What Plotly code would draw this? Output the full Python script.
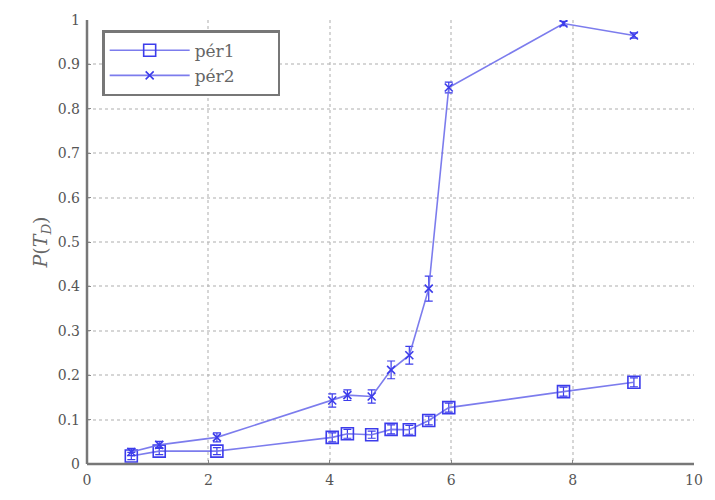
import plotly.graph_objects as go

# Measurement points shared by both series
x_vals = [0.73, 1.19, 2.14, 4.04, 4.29, 4.69, 5.01, 5.31, 5.63, 5.96, 7.85, 9.01]

per1 = [0.018, 0.029, 0.029, 0.060, 0.068, 0.066, 0.078, 0.077, 0.098, 0.127, 0.163, 0.184]
per1_err = [0.008, 0.008, 0.008, 0.010, 0.010, 0.008, 0.010, 0.010, 0.010, 0.010, 0.010, 0.010]

per2 = [0.027, 0.043, 0.060, 0.143, 0.155, 0.152, 0.212, 0.245, 0.395, 0.848, 0.992, 0.965]
per2_err = [0.008, 0.008, 0.010, 0.015, 0.012, 0.015, 0.020, 0.020, 0.028, 0.012, 0.005, 0.006]

series_names = ["pér1", "pér2"]

x_ticks = [0, 2, 4, 6, 8, 10]
y_ticks = [0, 0.1, 0.2, 0.3, 0.4, 0.5, 0.6, 0.7, 0.8, 0.9, 1]

line_col = "rgba(110,110,235,0.9)"
mark_col = "rgb(60,60,235)"
font_serif = "DejaVu Serif"
pad = "\u00a0" * 7  # widens the legend box

fig = go.Figure()

fig.add_trace(go.Scatter(
    x=x_vals, y=per1, name=series_names[0] + pad, mode="lines+markers",
    line=dict(color=line_col, width=1.6),
    marker=dict(symbol="square-open", size=12, color=mark_col,
                line=dict(width=1.6, color=mark_col)),
    error_y=dict(type="data", array=per1_err, color=mark_col, thickness=1.2, width=4),
))

fig.add_trace(go.Scatter(
    x=x_vals, y=per2, name=series_names[1] + pad, mode="lines+markers",
    line=dict(color=line_col, width=1.6),
    marker=dict(symbol="x-thin-open", size=8, color=mark_col,
                line=dict(width=1.6, color=mark_col)),
    error_y=dict(type="data", array=per2_err, color=mark_col, thickness=1.2, width=4),
))

axis_common = dict(
    showline=False, zeroline=False,
    showgrid=True, gridcolor="rgba(180,180,180,0.55)", griddash="dot", gridwidth=1.5,
    ticks="inside", ticklen=4, tickcolor="#888",
    tickfont=dict(family=font_serif, size=14, color="#555"),
)

fig.update_xaxes(range=[0, 10], tickvals=x_ticks, ticklabelstandoff=6, **axis_common)
fig.update_yaxes(range=[0, 1], tickvals=y_ticks, ticklabelstandoff=6, **axis_common)

# Solid left and bottom axis lines
fig.add_shape(type="line", xref="paper", yref="paper", x0=0, x1=1, y0=0, y1=0,
              line=dict(color="#777", width=2.5))
fig.add_shape(type="line", xref="paper", yref="paper", x0=0, x1=0, y0=0, y1=1,
              line=dict(color="#777", width=2.5))

fig.add_annotation(
    text="<i>P</i>(<i>T<sub>D</sub></i>)", xref="paper", yref="paper",
    x=-0.075, y=0.5, xanchor="center", yanchor="middle", textangle=-90,
    showarrow=False, font=dict(family=font_serif, size=19, color="#666"),
)

fig.update_layout(
    width=715, height=500,
    margin=dict(l=87, r=15, t=17, b=35),
    paper_bgcolor="white", plot_bgcolor="white",
    showlegend=True,
    legend=dict(
        x=0.025, y=0.977, xanchor="left", yanchor="top",
        bgcolor="white", bordercolor="#777", borderwidth=2.5,
        font=dict(family=font_serif, size=17, color="#666"),
        itemwidth=80, tracegroupgap=2,
    ),
)

fig.write_html("out.html")
